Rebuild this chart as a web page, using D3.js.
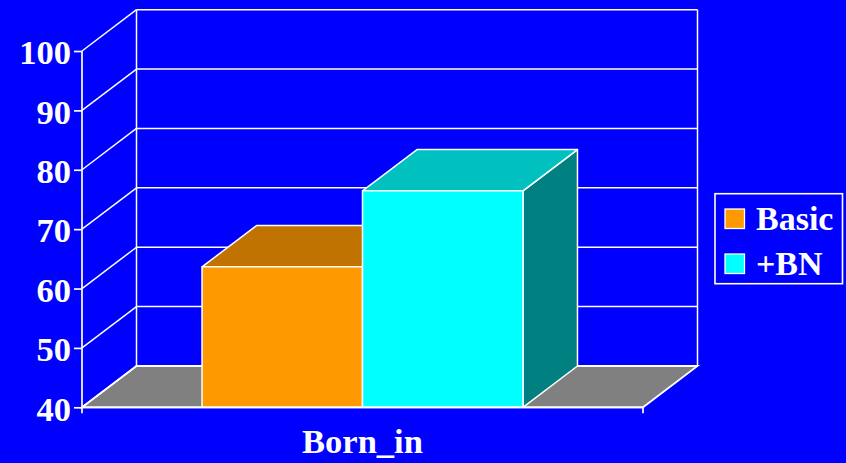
<!DOCTYPE html>
<html><head><meta charset="utf-8">
<script src="https://cdn.jsdelivr.net/npm/d3@7"></script>
<style>html,body{margin:0;padding:0;background:#0000ff;overflow:hidden}svg{display:block}</style>
</head><body><svg id="c" width="846" height="463"></svg>
<script>
const categories = ["Born_in"];
const seriesNames = ["Basic", "+BN"];
const seriesValues = [63.65, 76.45];
const yTicks = [40, 50, 60, 70, 80, 90, 100];
const seriesFront = ["#ff9900", "#00ffff"];
const seriesTop = ["#c07300", "#00c0c0"];
const seriesSide = ["#804d00", "#008080"];

const W = "#ffffff", font = "'Liberation Serif','Times New Roman',serif";
const dx = 54.5, dy = -41.3;
const svg = d3.select("#c");
svg.append("rect").attr("width",846).attr("height",463).attr("fill","#0000ff");
const y = d3.scaleLinear().domain([40,100]).range([407.3,51]);
const x0 = d3.scaleBand().domain(categories).range([82,643]).paddingInner(0).paddingOuter(0.374);
const x1 = d3.scaleBand().domain(seriesNames).range([x0(categories[0]), x0(categories[0])+x0.bandwidth()]);
const poly = pts => pts.map(p=>p.join(",")).join(" ");
const L = x0.range()[0], R = x0.range()[1];

// floor
svg.append("polygon").attr("points",poly([[L,y(40)],[L+dx,y(40)+dy],[R+dx,y(40)+dy],[R,y(40)]]))
  .attr("fill","#808080").attr("stroke",W).attr("stroke-width",1.8);
// back wall gridlines
const grid = svg.append("g").attr("stroke",W).attr("fill","none").attr("stroke-width",1.5);
yTicks.forEach(t=>{
  grid.append("line").attr("x1",L+dx).attr("x2",R+dx).attr("y1",y(t)+dy).attr("y2",y(t)+dy);
  grid.append("line").attr("x1",L).attr("x2",L+dx).attr("y1",y(t)).attr("y2",y(t)+dy);
});
grid.append("line").attr("x1",L+dx).attr("x2",L+dx).attr("y1",y(100)+dy).attr("y2",y(40)+dy);
grid.append("line").attr("x1",R+dx).attr("x2",R+dx).attr("y1",y(100)+dy).attr("y2",y(40)+dy);

// bars
seriesNames.forEach((s,i)=>{
  const a=x1(s), b=a+x1.bandwidth(), t=y(seriesValues[i]), z=y(40);
  const g=svg.append("g").attr("stroke",W).attr("stroke-width",1.5).attr("stroke-linejoin","round");
  g.append("polygon").attr("points",poly([[b,t],[b+dx,t+dy],[b+dx,z+dy],[b,z]])).attr("fill",seriesSide[i]);
  g.append("polygon").attr("points",poly([[a,t],[a+dx,t+dy],[b+dx,t+dy],[b,t]])).attr("fill",seriesTop[i]);
  g.append("rect").attr("x",a).attr("y",t).attr("width",b-a).attr("height",z-t).attr("fill",seriesFront[i]);
});

// axes (front edges)
const yAxis = d3.axisLeft(y).tickValues(yTicks).tickSize(8).tickPadding(3);
const gy = svg.append("g").attr("transform",`translate(${L},0)`).call(yAxis);
gy.selectAll("path,line").attr("stroke",W).attr("stroke-width",1.7);
gy.select("path").attr("d",`M0,${y(100)}V${y(40)+6}`);
gy.selectAll("text").attr("fill",W).attr("font-family",font).attr("font-weight","bold").attr("font-size",34.5).attr("dy","0.37em");
const xAxis = d3.axisBottom(x0).tickSize(0).tickPadding(21.5);
const gx = svg.append("g").attr("transform",`translate(0,${y(40)})`).call(xAxis);
gx.select("path").attr("stroke",W).attr("stroke-width",1.8).attr("d",`M${L},0H${R}`);
gx.selectAll("text").attr("fill",W).attr("font-family",font).attr("font-weight","bold").attr("font-size",34.5).attr("dy","0.71em");
svg.append("line").attr("x1",R).attr("x2",R).attr("y1",y(40)).attr("y2",y(40)+6).attr("stroke",W).attr("stroke-width",1.7);

// legend
const lg = svg.append("g");
lg.append("rect").attr("x",715).attr("y",193.7).attr("width",127.5).attr("height",90).attr("fill","#0000ff").attr("stroke",W).attr("stroke-width",1.6);
seriesNames.forEach((s,i)=>{
  const cy = 219 + i*45;
  lg.append("rect").attr("x",725).attr("y",cy-10).attr("width",19.5).attr("height",19.5).attr("fill",seriesFront[i]).attr("stroke",W).attr("stroke-width",1.3);
  lg.append("text").attr("x",756).attr("y",cy+11).attr("fill",W).attr("font-family",font).attr("font-weight","bold").attr("font-size",34).text(s);
});
</script></body></html>
